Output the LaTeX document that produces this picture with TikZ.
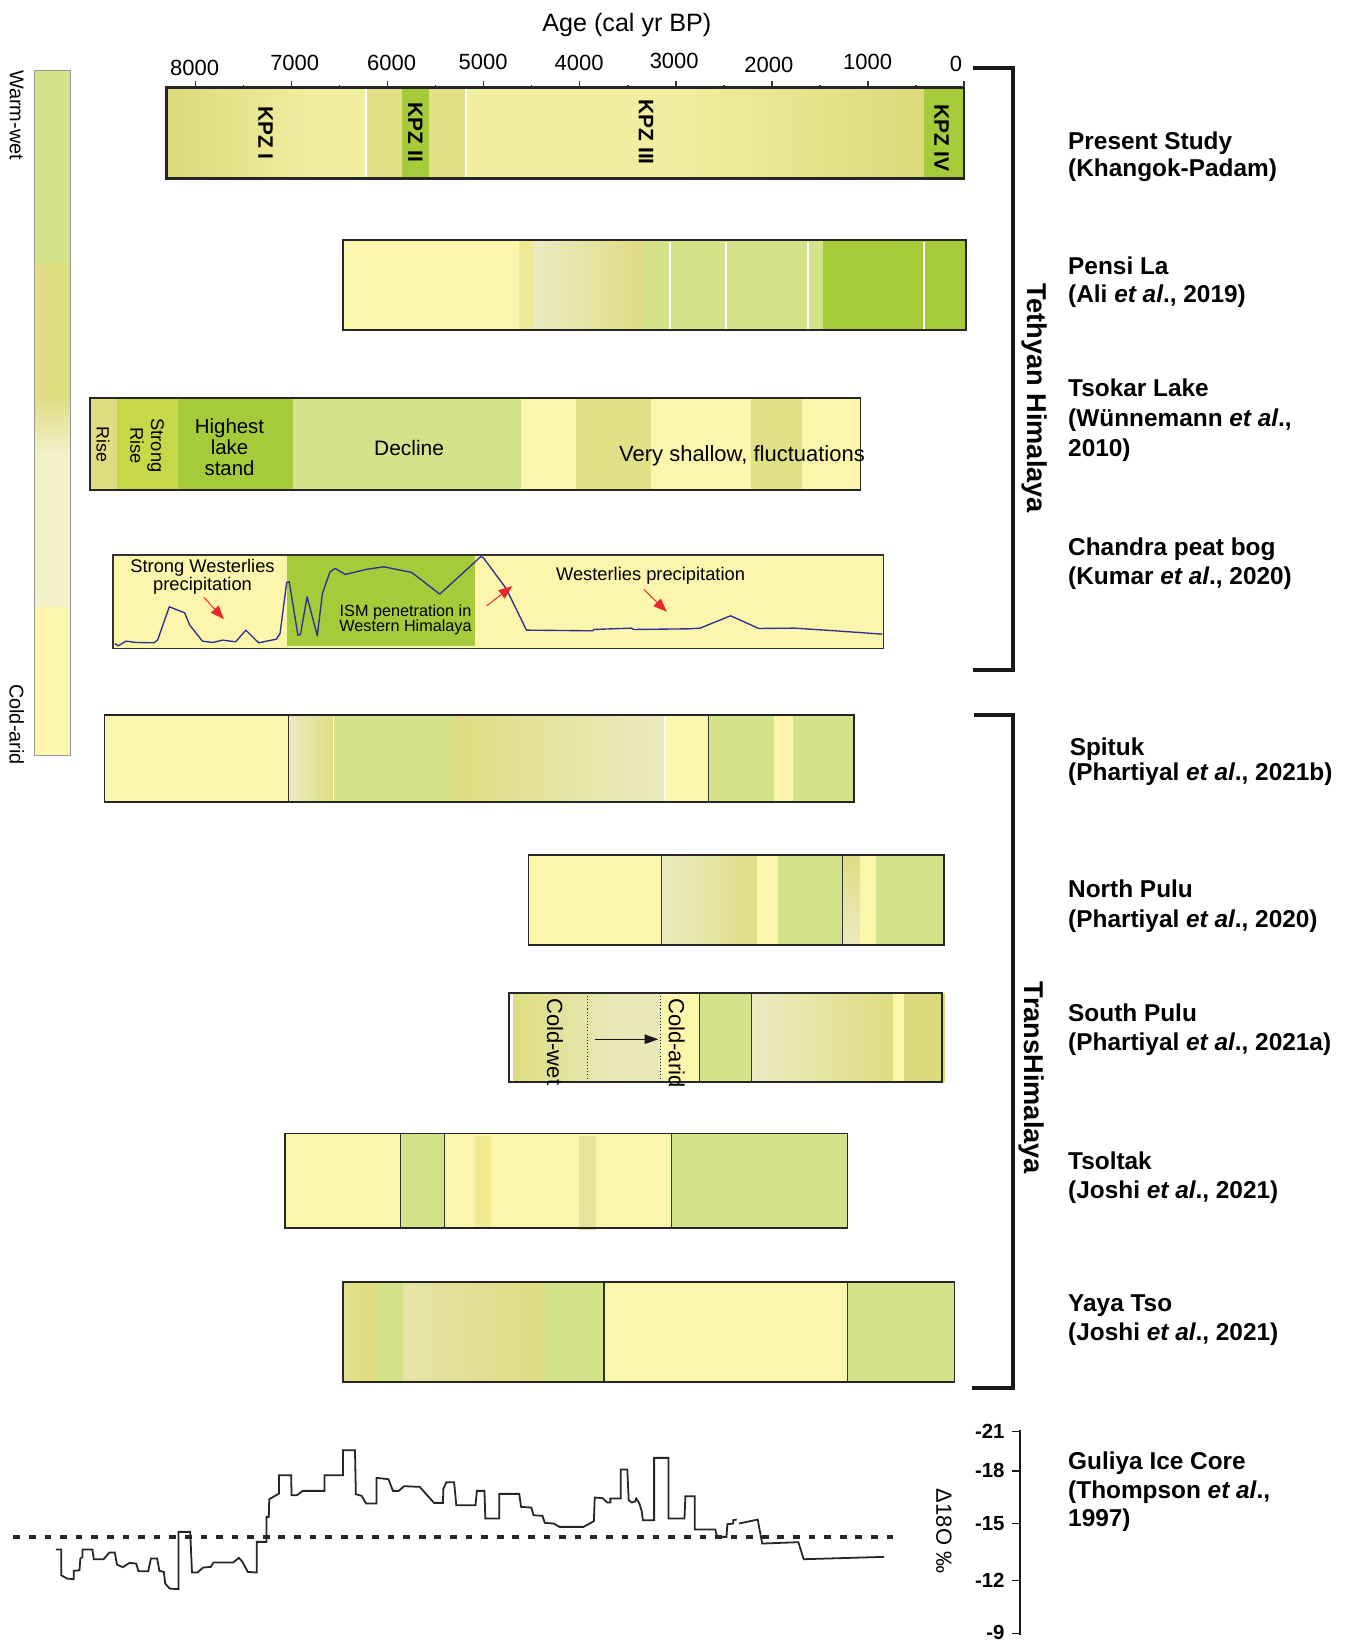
\documentclass[tikz,border=0pt]{standalone}
\usepackage{fontspec}
\setmainfont{Liberation Sans}
\usetikzlibrary{arrows.meta}
\definecolor{cY}{HTML}{FCF6AD}
\definecolor{cYb}{HTML}{EEEA96}
\definecolor{cYs}{HTML}{F0EA90}
\definecolor{cG}{HTML}{D2E38A}
\definecolor{cDG}{HTML}{A6CB3A}
\definecolor{cSR}{HTML}{C4D848}
\definecolor{cK}{HTML}{DFDC82}
\definecolor{cKb}{HTML}{E2E086}
\definecolor{cKd}{HTML}{DCD97C}
\definecolor{cKs}{HTML}{E6E49A}
\definecolor{cKl}{HTML}{E4E290}
\definecolor{cP}{HTML}{ECEBC2}
\definecolor{cPs}{HTML}{E9E8B8}
\definecolor{cPy}{HTML}{E6E4A8}
\definecolor{cPL}{HTML}{F3F1CA}
\definecolor{cT}{HTML}{F1EEA0}
\definecolor{cRed}{HTML}{E8262C}
\definecolor{cBlue}{HTML}{2E3192}
\begin{document}
\begin{tikzpicture}[x=1pt,y=-1pt,
  lab/.style={font=\fontsize{23.3}{28}\selectfont\bfseries, anchor=base west, inner sep=0pt},
  ticklab/.style={font=\fontsize{21}{24}\selectfont, anchor=base, inner sep=0pt},
  zonelab/.style={font=\fontsize{20}{22}\selectfont\bfseries, rotate=-90, anchor=west, inner sep=0pt},
  barline/.style={draw=black!85, line width=1.5pt},
  sepline/.style={draw=black!80, line width=1.1pt},
  wline/.style={draw=white, line width=1.6pt},
  brack/.style={draw=black!90, line width=3.8pt},
  axlab/.style={font=\fontsize{19.5}{22}\selectfont\bfseries, anchor=east, inner sep=0pt},
  redarrow/.style={draw=cRed, fill=cRed, line width=0.9pt, -{Triangle[length=13pt,width=10pt]}},
]
\useasboundingbox (0,0) rectangle (1293,1568);
\fill[white] (0,0) rectangle (1293,1568);

% ---------- title and axis ----------
\node[font=\fontsize{24}{28}\selectfont, anchor=base, inner sep=0pt] (title) at (599,30.3) {Age (cal yr BP)};
\node[ticklab] (t8) at (186,71.7) {8000};
\node[ticklab] (t7) at (281.6,67.5) {7000};
\node[ticklab] (t6) at (374.2,67.5) {6000};
\node[ticklab] (t5) at (461.6,66.3) {5000};
\node[ticklab] (t4) at (553.3,67.5) {4000};
\node[ticklab] (t3) at (644.2,65.3) {3000};
\node[ticklab] (t2) at (734.7,69.4) {2000};
\node[ticklab] (t1) at (829,66.3) {1000};
\node[ticklab] (t0) at (913.4,68.5) {0};

% ---------- legend bar ----------
\fill[cG] (33,67.5) rectangle (67,251);
\fill[cK] (33,251) rectangle (67,378);
\shade[top color=cK, bottom color=cPL] (33,378) rectangle (67,434);
\fill[cPL] (33,434) rectangle (67,580);
\fill[cY] (33,580) rectangle (67,722);
\draw[black!40, line width=1pt] (33,67.5) rectangle (67,722);
\node[font=\fontsize{19}{22}\selectfont, rotate=-90, anchor=west, inner sep=0pt] (warm) at (15.9,66.9) {Warm-wet};
\node[font=\fontsize{19}{22}\selectfont, rotate=-90, anchor=east, inner sep=0pt] (coldarid) at (15.9,731) {Cold-arid};

% ---------- Present study bar ----------
\shade[left color=cKd, right color=cT] (159,83.5) rectangle (300,170.5);
\fill[cT] (300,83.5) rectangle (350,170.5);
\fill[cKb] (350,83.5) rectangle (384.5,170.5);
\fill[cDG] (384.5,83.5) rectangle (410,170.5);
\fill[cKb] (410,83.5) rectangle (445,170.5);
\fill[cT] (445,83.5) rectangle (650,170.5);
\shade[left color=cT, right color=cKd] (650,83.5) rectangle (882.5,170.5);
\fill[cDG] (882.5,83.5) rectangle (921.2,170.5);
\draw[wline] (350,85) -- (350,169);
\draw[wline] (445,85) -- (445,169);
\draw[draw=black!85, line width=2.3pt] (159,83.5) rectangle (921.2,170.5);
\foreach \k in {0,...,8} {
  \draw[line width=1.3pt, black!80] ({921.2-91.8*\k},77.4) -- ({921.2-91.8*\k},83.5);
}
\foreach \k in {0,...,7} {
  \draw[line width=1.3pt, black!80] ({921.2-45.9-91.8*\k},80.8) -- ({921.2-45.9-91.8*\k},83.5);
}
\node[zonelab] (kpz1) at (253.8,101.3) {KPZ I};
\node[zonelab] (kpz2) at (396.8,98.1) {KPZ II};
\node[zonelab] (kpz3) at (617.3,95) {KPZ III};
\node[zonelab] (kpz4) at (899.7,99.4) {KPZ IV};

% ---------- Pensi La ----------
\fill[cY] (327.7,229.4) rectangle (496.2,315.4);
\fill[cYb] (496.2,229.4) rectangle (509.8,315.4);
\shade[left color=cP, right color=cK] (509.8,229.4) rectangle (614.4,315.4);
\fill[cG] (614.4,229.4) rectangle (786.1,315.4);
\fill[cDG] (786.1,229.4) rectangle (923.3,315.4);
\foreach \xx in {640,694,772,882.6} { \draw[wline] (\xx,231) -- (\xx,314); }
\draw[draw=black!85, line width=2.2pt] (327.7,229.4) rectangle (923.3,315.4);

% ---------- Tsokar Lake ----------
\fill[cK] (86.2,380.1) rectangle (112,468.3);
\fill[cSR] (112,380.1) rectangle (170,468.3);
\fill[cDG] (170,380.1) rectangle (279.8,468.3);
\fill[cG] (279.8,380.1) rectangle (498.2,468.3);
\fill[cY] (498.2,380.1) rectangle (550.3,468.3);
\fill[cKb] (550.3,380.1) rectangle (621.6,468.3);
\fill[cY] (621.6,380.1) rectangle (717.6,468.3);
\fill[cKb] (717.6,380.1) rectangle (766.3,468.3);
\fill[cY] (766.3,380.1) rectangle (822.4,468.3);
\draw[barline] (86.2,380.1) rectangle (822.4,468.3);
\node[font=\fontsize{17}{20}\selectfont, rotate=-90, inner sep=0pt] (rise) at (98.4,424.5) {Rise};
\node[font=\fontsize{17.5}{20}\selectfont, rotate=-90, align=center, inner sep=0pt] (srise) at (140.5,425.6) {Strong\\Rise};
\node[font=\fontsize{19.5}{20}\selectfont, align=center, inner sep=0pt] (hls) at (219.3,427.7) {Highest\\lake\\stand};
\node[font=\fontsize{20}{22}\selectfont, inner sep=0pt] (decl) at (390.9,428.4) {Decline};
\node[font=\fontsize{21}{22}\selectfont, inner sep=0pt] (vsf) at (709,435.5) {Very shallow, fluctuations};

% ---------- Chandra peat bog ----------
\fill[cY] (107.8,530.4) rectangle (843.9,619.6);
\fill[cDG] (273.9,530.4) rectangle (454.3,617);
\draw[draw=black!80, line width=1.3pt] (107.8,530.4) rectangle (843.9,619.6);
\begin{scope}[shift={(76.45,367.93)}, xscale=0.4876, yscale=0.3186]
\draw[cBlue, line width=1.3pt, line join=round] (68,775) -- (75,782) -- (90,768) -- (110,772) -- (145,773) -- (152,765) -- (175,665) -- (205,683) -- (215,720) -- (240,768) -- (260,772) -- (280,765) -- (305,770) -- (325,735) -- (350,773) -- (385,762) -- (392,745) -- (405,592) -- (410,590) -- (427,750) -- (432,748) -- (445,635) -- (465,752) -- (475,625) -- (490,560) -- (500,550) -- (520,568) -- (560,553) -- (595,545) -- (650,562) -- (705,627) -- (785,515) -- (790,517) -- (835,610) -- (875,735) -- (1005,737) -- (1007,733) -- (1080,729) -- (1085,733) -- (1195,731) -- (1215,729) -- (1275,692) -- (1330,730) -- (1400,729) -- (1480,737) -- (1572,747);
\coordinate (ra1) at (243,637); \coordinate (rb1) at (282,702);
\coordinate (ra2) at (797,662); \coordinate (rb2) at (847,603);
\coordinate (ra3) at (1105,613); \coordinate (rb3) at (1150,680);
\end{scope}
\draw[redarrow] (ra1) -- (rb1);
\draw[redarrow] (ra2) -- (rb2);
\draw[redarrow] (ra3) -- (rb3);
\node[font=\fontsize{17.5}{17.5}\selectfont, align=center, inner sep=0pt] (swp) at (193.5,551) {Strong Westerlies\\precipitation};
\node[font=\fontsize{15.5}{14.5}\selectfont, align=center, inner sep=0pt] (ism) at (387.5,592) {ISM penetration in\\Western Himalaya};
\node[font=\fontsize{17.5}{20}\selectfont, inner sep=0pt] (wp) at (621.6,550.5) {Westerlies precipitation};

% ---------- Spituk ----------
\fill[cY] (99.7,683.3) rectangle (275.3,766.1);
\shade[left color=cP, right color=cK] (275.3,683.3) rectangle (318,766.1);
\fill[cG] (318,683.3) rectangle (434.2,766.1);
\shade[left color=cK, right color=cP] (434.2,683.3) rectangle (635.5,766.1);
\fill[cY] (635.5,683.3) rectangle (676.9,766.1);
\fill[cG] (676.9,683.3) rectangle (739.2,766.1);
\fill[cY] (739.2,683.3) rectangle (757.6,766.1);
\fill[cG] (757.6,683.3) rectangle (815.8,766.1);
\draw[wline] (318.6,685) -- (318.6,764.5);
\draw[wline] (635.5,685) -- (635.5,764.5);
\draw[sepline] (275.3,683.3) -- (275.3,766.1);
\draw[sepline] (676.9,683.3) -- (676.9,766.1);
\draw[barline] (99.7,683.3) rectangle (815.8,766.1);

% ---------- North Pulu ----------
\fill[cY] (505,817.1) rectangle (631.8,903.1);
\shade[left color=cP, right color=cK] (631.8,817.1) rectangle (723.5,903.1);
\fill[cY] (723.5,817.1) rectangle (743.5,903.1);
\fill[cG] (743.5,817.1) rectangle (804.8,903.1);
\shade[top color=cK, bottom color=cP] (804.8,817.1) rectangle (822.1,903.1);
\fill[cY] (822.1,817.1) rectangle (836.8,903.1);
\fill[cG] (836.8,817.1) rectangle (902.2,903.1);
\draw[sepline] (631.8,817.1) -- (631.8,903.1);
\draw[sepline] (804.8,817.1) -- (804.8,903.1);
\draw[barline] (505,817.1) rectangle (902.2,903.1);

% ---------- South Pulu ----------
\shade[left color=cK, right color=cPs] (490.5,948.6) rectangle (585,1033.7);
\fill[cPs] (585,948.6) rectangle (631.4,1033.7);
\fill[cY] (631.4,948.6) rectangle (668.3,1033.7);
\fill[cG] (668.3,948.6) rectangle (717.7,1033.7);
\shade[left color=cP, right color=cK] (717.7,948.6) rectangle (853.7,1033.7);
\fill[cY] (853.7,948.6) rectangle (863.3,1033.7);
\fill[cKd] (863.3,948.6) rectangle (902.5,1033.7);
\draw[black!85, line width=1pt, dotted] (561.3,948.6) -- (561.3,1033.7);
\draw[black!85, line width=1pt, dotted] (631.4,948.6) -- (631.4,1033.7);
\draw[sepline] (668.3,948.6) -- (668.3,1033.7);
\draw[sepline] (717.7,948.6) -- (717.7,1033.7);
\draw[barline] (486.4,948.6) rectangle (900,1033.7);
\node[font=\fontsize{21}{22}\selectfont, rotate=-90, anchor=west, inner sep=0pt] (cw) at (530.4,953.8) {Cold-wet};
\node[font=\fontsize{21}{22}\selectfont, rotate=-90, anchor=west, inner sep=0pt] (ca) at (646.7,953.8) {Cold-arid};
\coordinate (spa) at (568.6,993);
\coordinate (spb) at (629,993);
\draw[black!90, line width=1.2pt, -{Triangle[length=13pt,width=9pt]}] (spa) -- (spb);

% ---------- Tsoltak ----------
\fill[cY] (272.1,1083.1) rectangle (809.6,1173.3);
\fill[cG] (383,1083.1) rectangle (424.4,1173.3);
\fill[cYs] (453.5,1085) rectangle (469.2,1173.3);
\fill[cKs] (553.2,1085) rectangle (569.5,1175.5);
\fill[cG] (642,1083.1) rectangle (809.6,1173.3);
\draw[sepline] (383,1083.1) -- (383,1173.3);
\draw[sepline] (424.4,1083.1) -- (424.4,1173.3);
\draw[sepline] (642,1083.1) -- (642,1173.3);
\draw[barline] (272.1,1083.1) rectangle (809.6,1173.3);

% ---------- Yaya Tso ----------
\shade[left color=cKl, right color=cK] (327.6,1224.8) rectangle (345,1320.4);
\fill[cK] (345,1224.8) rectangle (360.4,1320.4);
\fill[cG] (360.4,1224.8) rectangle (385.1,1320.4);
\shade[left color=cPy, right color=cK] (385.1,1224.8) rectangle (520.4,1320.4);
\fill[cG] (520.4,1224.8) rectangle (577.1,1320.4);
\fill[cY] (577.1,1224.8) rectangle (809.6,1320.4);
\fill[cG] (809.6,1224.8) rectangle (912.1,1320.4);
\draw[sepline] (577.1,1224.8) -- (577.1,1320.4);
\draw[sepline] (809.6,1224.8) -- (809.6,1320.4);
\draw[barline] (327.6,1224.8) rectangle (912.1,1320.4);

% ---------- Guliya curve ----------
\begin{scope}[shift={(0,1357.0)}, xscale=0.42664, yscale=0.31855]
\draw[black!85, line width=3.4pt, dash pattern=on 6.4pt off 8.5pt] (30,350) -- (2018,350);
\draw[black!85, line width=1.7pt, line join=miter] (125,388) -- (137,388) -- (137,465) -- (150,475) -- (165,477) -- (165,452) -- (178,450) -- (180,415) -- (185,410) -- (185,388) -- (207,388) -- (210,417) -- (232,417) -- (245,397) -- (257,397) -- (262,433) -- (275,441) -- (290,428) -- (305,430) -- (310,453) -- (332,453) -- (338,415) -- (352,415) -- (357,452) -- (367,455) -- (370,490) -- (380,505) -- (400,507) -- (400,335) -- (426,335) -- (430,457) -- (442,457) -- (455,442) -- (472,440) -- (478,427) -- (522,427) -- (535,413) -- (543,425) -- (555,455) -- (575,457) -- (575,365) -- (597,365) -- (597,290) -- (602,290) -- (603,237) -- (625,220) -- (625,165) -- (652,165) -- (653,225) -- (665,225) -- (678,212) -- (727,212) -- (727,165) -- (768,165) -- (768,90) -- (795,90) -- (797,222) -- (810,227) -- (820,250) -- (843,250) -- (843,173) -- (870,177) -- (880,212) -- (893,212) -- (905,198) -- (940,200) -- (972,248) -- (992,248) -- (993,205) -- (1000,186) -- (1017,186) -- (1022,255) -- (1065,255) -- (1068,212) -- (1085,212) -- (1087,295) -- (1118,295) -- (1118,221) -- (1163,221) -- (1167,260) -- (1190,262) -- (1195,285) -- (1215,287) -- (1220,308) -- (1240,310) -- (1253,320) -- (1307,320) -- (1330,303) -- (1332,232) -- (1350,234) -- (1360,247) -- (1367,247) -- (1367,235) -- (1390,235) -- (1390,148) -- (1405,148) -- (1408,240) -- (1415,247) -- (1422,244) -- (1425,235) -- (1432,250) -- (1437,272) -- (1440,300) -- (1465,300) -- (1465,113) -- (1497,113) -- (1497,295) -- (1533,295) -- (1535,228) -- (1556,228) -- (1556,328) -- (1602,328) -- (1605,345) -- (1612,350) -- (1627,350) -- (1629,312) -- (1642,310) -- (1642,300) -- (1650,298);
\draw[black!85, line width=1.7pt] (1655,310) -- (1697,298) -- (1707,370) -- (1788,366) -- (1800,417) -- (1980,410);
\end{scope}

% ---------- Guliya axis ----------
\draw[black!90, line width=1.8pt] (974.8,1366) -- (974.8,1562);
\foreach \yy in {1368,1405.5,1455.8,1510,1560.8} {
  \draw[black!90, line width=1.5pt] (967.4,\yy) -- (974.8,\yy);
}
\node[axlab] (a21) at (960,1368) {-21};
\node[axlab] (a18) at (960,1405.5) {-18};
\node[axlab] (a15) at (960,1455.8) {-15};
\node[axlab] (a12) at (960,1510) {-12};
\node[axlab] (a9) at (960,1559.5) {-9};
\node[font=\fontsize{21}{22}\selectfont, rotate=-90, inner sep=0pt] (d18o) at (901.9,1463) {Δ18O ‰};

% ---------- brackets ----------
\draw[brack] (929.7,65.3) -- (967.8,65.3) -- (967.8,640) -- (929.7,640);
\draw[brack] (931,683) -- (967.8,683) -- (967.8,1326) -- (929,1326);
\node[font=\fontsize{26}{28}\selectfont\bfseries, rotate=-90, inner sep=0pt] (teth) at (988.5,380.7) {Tethyan Himalaya};
\node[font=\fontsize{26}{28}\selectfont\bfseries, rotate=-90, inner sep=0pt] (trans) at (986,1030) {TransHimalaya};

% ---------- right labels ----------
\node[lab] (ps1) at (1020.5,142.7) {Present Study};
\node[lab] (ps2) at (1020.5,168.8) {(Khangok-Padam)};
\node[lab] (pl1) at (1020.5,262.2) {Pensi La};
\node[lab] (pl2) at (1020.5,288.8) {(Ali \textit{et al}., 2019)};
\node[lab] (tk1) at (1020.5,379.1) {Tsokar Lake};
\node[lab] (tk2) at (1020.5,407.5) {(Wünnemann \textit{et al}.,};
\node[lab] (tk3) at (1020.5,435.9) {2010)};
\node[lab] (cp1) at (1020.5,530.4) {Chandra peat bog};
\node[lab] (cp2) at (1020.5,558.1) {(Kumar \textit{et al}., 2020)};
\node[lab] (sp1) at (1022,722) {Spituk};
\node[lab] (sp2) at (1020.5,746) {(Phartiyal \textit{et al}., 2021b)};
\node[lab] (np1) at (1020.5,858) {North Pulu};
\node[lab] (np2) at (1020.5,886) {(Phartiyal \textit{et al}., 2020)};
\node[lab] (sq1) at (1020.5,976) {South Pulu};
\node[lab] (sq2) at (1020.5,1004) {(Phartiyal \textit{et al}., 2021a)};
\node[lab] (ts1) at (1020.5,1117) {Tsoltak};
\node[lab] (ts2) at (1020.5,1145) {(Joshi \textit{et al}., 2021)};
\node[lab] (yt1) at (1020.5,1253) {Yaya Tso};
\node[lab] (yt2) at (1020.5,1281) {(Joshi \textit{et al}., 2021)};
\node[lab] (gu1) at (1020.5,1404.2) {Guliya Ice Core};
\node[lab] (gu2) at (1020.5,1431.9) {(Thompson \textit{et al}.,};
\node[lab] (gu3) at (1020.5,1459) {1997)};
\end{tikzpicture}
\end{document}
